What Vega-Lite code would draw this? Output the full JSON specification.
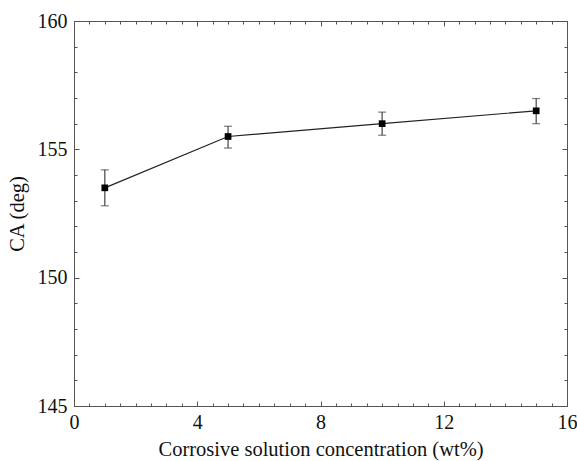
{
  "$schema": "https://vega.github.io/schema/vega-lite/v6.json",
  "autosize": "none",
  "width": 493,
  "height": 385,
  "padding": {"left": 74, "top": 21, "right": 10, "bottom": 55},
  "background": "white",
  "config": {
    "view": {"stroke": null},
    "axis": {"labelFont": "Liberation Serif", "titleFont": "Liberation Serif", "labelFontSize": 20, "titleFontSize": 20.5, "labelColor": "#111", "titleColor": "#111", "titleFontWeight": "normal", "domainColor": "#555", "tickColor": "#555", "grid": false, "labelFlush": false, "labelOverlap": false}
  },
  "data": {"values": [
    {"c": 1, "ca": 153.5, "lo": 152.8, "hi": 154.2},
    {"c": 5, "ca": 155.5, "lo": 155.05, "hi": 155.9},
    {"c": 10, "ca": 156.0, "lo": 155.55, "hi": 156.45},
    {"c": 15, "ca": 156.5, "lo": 156.0, "hi": 156.98}
  ]},
  "resolve": {"axis": {"x": "independent", "y": "independent"}},
  "layer": [
    {
      "mark": {"type": "point", "opacity": 0},
      "encoding": {
        "x": {"field": "c", "type": "quantitative", "scale": {"domain": [0, 16], "nice": false, "zero": false},
              "axis": {"orient": "bottom", "values": [0, 4, 8, 12, 16], "tickSize": -5, "labelPadding": 11, "title": "Corrosive solution concentration (wt%)", "titlePadding": 7}},
        "y": {"field": "ca", "type": "quantitative", "scale": {"domain": [145, 160], "nice": false, "zero": false},
              "axis": {"orient": "left", "values": [145, 150, 155, 160], "tickSize": -5, "labelPadding": 12, "title": "CA (deg)", "titlePadding": 10}}
      }
    },
    {
      "mark": {"type": "point", "opacity": 0},
      "encoding": {
        "x": {"field": "c", "type": "quantitative", "axis": {"orient": "bottom", "values": [0.5,1,1.5,2,2.5,3,3.5,4.5,5,5.5,6,6.5,7,7.5,8.5,9,9.5,10,10.5,11,11.5,12.5,13,13.5,14,14.5,15,15.5], "tickSize": -3, "labels": false, "title": null, "domain": false}},
        "y": {"field": "ca", "type": "quantitative", "axis": {"orient": "left", "values": [146,147,148,149,151,152,153,154,156,157,158,159], "tickSize": -3, "labels": false, "title": null, "domain": false}}
      }
    },
    {
      "mark": {"type": "point", "opacity": 0},
      "encoding": {
        "x": {"field": "c", "type": "quantitative", "axis": {"orient": "top", "values": [0, 4, 8, 12, 16], "tickSize": -5, "labels": false, "title": null}},
        "y": {"field": "ca", "type": "quantitative", "axis": {"orient": "right", "values": [145, 150, 155, 160], "tickSize": -5, "labels": false, "title": null}}
      }
    },
    {
      "mark": {"type": "point", "opacity": 0},
      "encoding": {
        "x": {"field": "c", "type": "quantitative", "axis": {"orient": "top", "values": [0.5,1,1.5,2,2.5,3,3.5,4.5,5,5.5,6,6.5,7,7.5,8.5,9,9.5,10,10.5,11,11.5,12.5,13,13.5,14,14.5,15,15.5], "tickSize": -3, "labels": false, "title": null, "domain": false}},
        "y": {"field": "ca", "type": "quantitative", "axis": {"orient": "right", "values": [146,147,148,149,151,152,153,154,156,157,158,159], "tickSize": -3, "labels": false, "title": null, "domain": false}}
      }
    },
    {
      "mark": {"type": "rule", "color": "#444", "strokeWidth": 1.2},
      "encoding": {
        "x": {"field": "c", "type": "quantitative", "axis": null},
        "y": {"field": "lo", "type": "quantitative", "axis": null},
        "y2": {"field": "hi"}
      }
    },
    {
      "mark": {"type": "tick", "orient": "horizontal", "color": "#444", "size": 8, "thickness": 1.2},
      "encoding": {
        "x": {"field": "c", "type": "quantitative", "axis": null},
        "y": {"field": "lo", "type": "quantitative", "axis": null}
      }
    },
    {
      "mark": {"type": "tick", "orient": "horizontal", "color": "#444", "size": 8, "thickness": 1.2},
      "encoding": {
        "x": {"field": "c", "type": "quantitative", "axis": null},
        "y": {"field": "hi", "type": "quantitative", "axis": null}
      }
    },
    {
      "mark": {"type": "line", "color": "#222", "strokeWidth": 1.2},
      "encoding": {
        "x": {"field": "c", "type": "quantitative", "axis": null},
        "y": {"field": "ca", "type": "quantitative", "axis": null}
      }
    },
    {
      "mark": {"type": "point", "shape": "square", "filled": true, "color": "#000", "size": 45, "opacity": 1},
      "encoding": {
        "x": {"field": "c", "type": "quantitative", "axis": null},
        "y": {"field": "ca", "type": "quantitative", "axis": null}
      }
    }
  ]
}
